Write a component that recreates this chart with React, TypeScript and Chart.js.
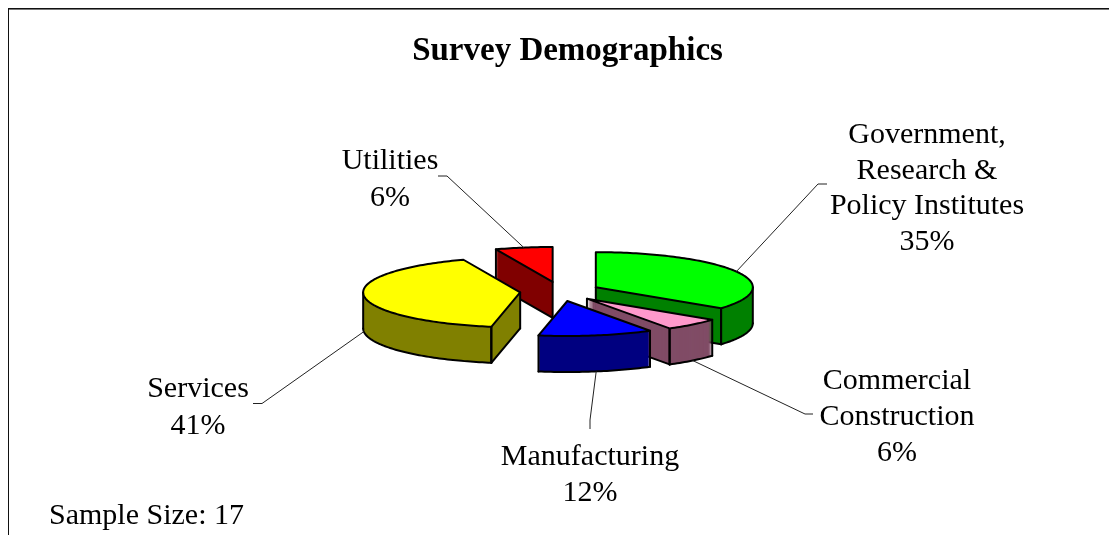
import React, { useEffect, useRef } from "react";
import { Chart, registerables, ArcElement } from "chart.js";

Chart.register(...registerables);

// ---- data ----
const CATEGORIES = ["Government, Research & Policy Institutes", "Commercial Construction", "Manufacturing", "Services", "Utilities"];
const VALUES = [6, 1, 2, 7, 1];
const TOP_COLORS = ["#00FF00", "#FF99CC", "#0000FF", "#FFFF00", "#FF0000"];
const WALL_COLORS = ["#008000", "#804C66", "#000080", "#808000", "#800000"];
const LABEL_LINES = [
  ["Government,", "Research &", "Policy Institutes"],
  ["Commercial", "Construction"],
  ["Manufacturing"],
  ["Services"],
  ["Utilities"],
];
const TITLE = "Survey Demographics";
const NOTE = "Sample Size: 17";

// ---- layout ----
const W = 1109;
const H = 535;
const SERIF = '"Liberation Serif", "Times New Roman", serif';
const LABEL_FONT = `30px ${SERIF}`;
const CX = 560;
const CY = 291.5;
const R = 157;
const K = 0.223;
const KX = 0.242; // vertical foreshortening of the explosion distance
const EXPLODE = 40;
const DEPTH = 36;
// centre x, first line centre y, line step, leader start and elbow
const LABEL_BOX = [
  { x: 927, y: 135.5, step: 35.5, from: [827, 184], elbow: [818, 184] },
  { x: 897, y: 381.5, step: 36, from: [813, 414], elbow: [805, 414] },
  { x: 590, y: 457.5, step: 36, from: [590, 429], elbow: [590, 420] },
  { x: 198, y: 389.5, step: 36.5, from: [253, 403.5], elbow: [262, 403.5] },
  { x: 390, y: 161.5, step: 36.5, from: [438, 176], elbow: [447, 176] },
];

function midAngle(el: any) {
  return (el.startAngle + el.endAngle) / 2;
}

function apex(el: any, dz: number) {
  const m = midAngle(el);
  return { x: CX + Math.cos(m) * EXPLODE, y: CY + dz + KX * Math.sin(m) * EXPLODE };
}

function rim(el: any, theta: number, dz: number) {
  const a = apex(el, dz);
  return { x: a.x + R * Math.cos(theta), y: a.y + K * R * Math.sin(theta) };
}

function drawFace(ctx: CanvasRenderingContext2D, el: any, dz: number, color: string) {
  const a = apex(el, dz);
  const copy = Object.create(el, {
    options: { value: { ...el.options, backgroundColor: color, borderWidth: 0, offset: 0 } },
  });
  ctx.save();
  ctx.translate(a.x, a.y);
  ctx.scale(1, K);
  ctx.translate(-el.x, -el.y);
  ArcElement.prototype.draw.call(copy, ctx);
  ctx.restore();
}

function seg(ctx: CanvasRenderingContext2D, a: any, b: any) {
  ctx.beginPath();
  ctx.moveTo(a.x, a.y);
  ctx.lineTo(b.x, b.y);
  ctx.stroke();
}

function arcLine(ctx: CanvasRenderingContext2D, el: any, from: number, to: number, dz: number, join: boolean) {
  const steps = Math.max(2, Math.ceil((to - from) / 0.02));
  for (let i = 0; i <= steps; i++) {
    const p = rim(el, from + ((to - from) * i) / steps, dz);
    if (i === 0 && !join) ctx.moveTo(p.x, p.y);
    else ctx.lineTo(p.x, p.y);
  }
}

const pie3d = {
  id: "pie3d",
  beforeDraw(chart: any) {
    const ctx = chart.ctx;
    ctx.save();
    ctx.fillStyle = "#fff";
    ctx.fillRect(0, 0, W, H);
    ctx.fillStyle = "#111";
    ctx.fillRect(8, 8, W - 8, 1);
    ctx.fillRect(8, 8, 1, H - 8);
    ctx.fillStyle = "#777";
    ctx.fillRect(9, 9, W - 9, 1);
    ctx.restore();
  },
  beforeDatasetsDraw(chart: any) {
    const ctx: CanvasRenderingContext2D = chart.ctx;
    const arcs: any[] = chart.getDatasetMeta(0).data;
    const order = arcs.map((_, i) => i).sort((a, b) => Math.sin(midAngle(arcs[a])) - Math.sin(midAngle(arcs[b])));
    ctx.save();
    ctx.strokeStyle = "#000";
    ctx.lineWidth = 2;
    ctx.lineJoin = "round";
    ctx.lineCap = "round";
    for (const i of order) {
      const el = arcs[i];
      const s = el.startAngle;
      const e = el.endAngle;
      for (let dz = DEPTH; dz >= 1; dz--) drawFace(ctx, el, dz, WALL_COLORS[i]);

      const lo = Math.max(s, 0);
      const hi = Math.min(e, Math.PI);
      if (hi > lo) {
        ctx.beginPath();
        arcLine(ctx, el, lo, hi, DEPTH, false);
        ctx.stroke();
        seg(ctx, rim(el, lo, 0), rim(el, lo, DEPTH));
        seg(ctx, rim(el, hi, 0), rim(el, hi, DEPTH));
      }
      const startWall = Math.cos(s) < -1e-6;
      const endWall = Math.cos(e) > 1e-6;
      if (startWall) {
        seg(ctx, apex(el, DEPTH), rim(el, s, DEPTH));
        seg(ctx, rim(el, s, 0), rim(el, s, DEPTH));
      }
      if (endWall) {
        seg(ctx, apex(el, DEPTH), rim(el, e, DEPTH));
        seg(ctx, rim(el, e, 0), rim(el, e, DEPTH));
      }
      if (startWall || endWall) seg(ctx, apex(el, 0), apex(el, DEPTH));

      drawFace(ctx, el, 0, TOP_COLORS[i]);
      ctx.beginPath();
      const a0 = apex(el, 0);
      ctx.moveTo(a0.x, a0.y);
      arcLine(ctx, el, s, e, 0, true);
      ctx.closePath();
      ctx.stroke();
    }
    ctx.restore();
    return false;
  },
  afterDraw(chart: any) {
    const ctx: CanvasRenderingContext2D = chart.ctx;
    const arcs: any[] = chart.getDatasetMeta(0).data;
    const total = VALUES.reduce((a, b) => a + b, 0);
    ctx.save();
    ctx.font = LABEL_FONT;
    ctx.fillStyle = "#000";
    ctx.textBaseline = "middle";
    ctx.textAlign = "center";
    arcs.forEach((el, i) => {
      const box = LABEL_BOX[i];
      const lines = [...LABEL_LINES[i], `${Math.round((VALUES[i] / total) * 100)}%`];
      lines.forEach((t, n) => ctx.fillText(t, box.x, box.y + n * box.step));
      const m = midAngle(el);
      const end = rim(el, m, Math.sin(m) > 0 ? DEPTH : 0);
      ctx.strokeStyle = "#222";
      ctx.lineWidth = 1;
      ctx.beginPath();
      ctx.moveTo(box.from[0], box.from[1]);
      ctx.lineTo(box.elbow[0], box.elbow[1]);
      ctx.lineTo(end.x, end.y);
      ctx.stroke();
    });
    ctx.textAlign = "left";
    ctx.fillText(NOTE, 49, 516);
    ctx.restore();
  },
};

export default function App() {
  const ref = useRef<HTMLCanvasElement>(null);
  useEffect(() => {
    const chart = new Chart(ref.current!, {
      type: "pie",
      plugins: [pie3d],
      data: {
        labels: CATEGORIES,
        datasets: [{ data: VALUES, backgroundColor: TOP_COLORS, borderWidth: 0, radius: R }],
      },
      options: {
        responsive: false,
        animation: false,
        layout: { padding: { left: 26 } },
        plugins: {
          legend: { display: false },
          tooltip: { enabled: false },
          title: {
            display: true,
            text: TITLE,
            color: "#000",
            font: { family: SERIF, size: 33, weight: "bold" },
            padding: { top: 32, bottom: 0 },
          },
        },
      },
    } as any);
    return () => chart.destroy();
  }, []);
  return (
    <canvas
      ref={ref}
      width={W}
      height={H}
      style={{ position: "absolute", left: 0, top: 0, display: "block", width: W, height: H }}
    />
  );
}
